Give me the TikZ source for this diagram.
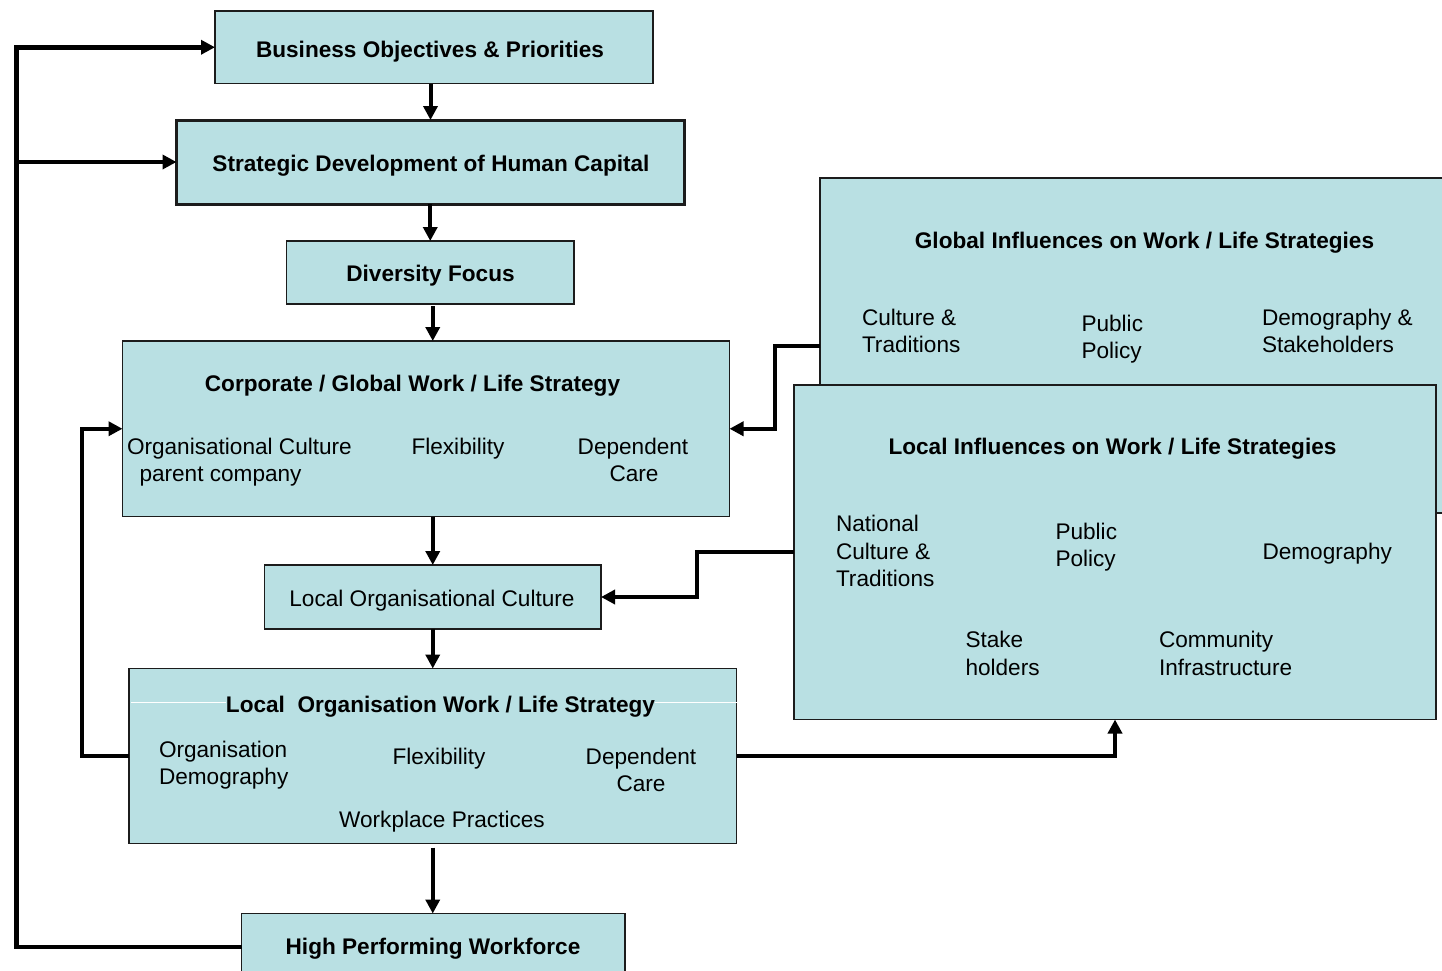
\documentclass[tikz,border=0pt]{standalone}
\usepackage{fontspec}
\setmainfont{Liberation Sans}
\usetikzlibrary{arrows.meta}
\definecolor{boxfill}{RGB}{185,224,227}
\definecolor{boxline}{RGB}{28,28,28}
\begin{document}
\begin{tikzpicture}[x=1pt,y=-1pt,
  box/.style={draw=boxline, fill=boxfill, line width=1.4pt, inner sep=0pt, outer sep=0pt},
  lbl/.style={font=\fontsize{22.6}{27.5}\selectfont, inner sep=0pt, outer sep=0pt, text=black},
  ttl/.style={inner sep=0pt, outer sep=0pt, text=black, font=\fontsize{22.6}{27.5}\selectfont\bfseries},
  conn/.style={line width=4pt, draw=black, -{Triangle[length=14pt,width=14pt]}},
  feedback/.style={conn, line width=4.5pt}]
\useasboundingbox (0,0) rectangle (1442,970);
\clip (0,0) rectangle (1442,970);

% ---- main column of boxes ----
\node[box, minimum width=438pt, minimum height=72.5pt] (bus) at (434,47.25) {};
\node[box, line width=3pt, minimum width=508pt, minimum height=84pt] (strat) at (430.5,162) {};
\node[box, minimum width=287.5pt, minimum height=63pt] (div) at (430.25,272.5) {};
\node[box, minimum width=607pt, minimum height=175.5pt] (corp) at (426,428.75) {};
\node[box, minimum width=336.5pt, minimum height=64pt] (lc) at (432.75,597) {};
\node[box, minimum width=607.5pt, minimum height=175pt] (ls) at (432.75,756) {};
\node[box, minimum width=383.5pt, minimum height=66.5pt] (high) at (433.25,946.75) {};

% ---- influence boxes on the right ----
\node[box, minimum width=650pt, minimum height=335pt] (glob) at (1145,345.5) {};
\node[box, minimum width=642pt, minimum height=334.5pt] (loc) at (1115,552.25) {};

% thin white rule behind the local strategy heading
\coordinate (wl) at (131,702);
\draw[white, line width=1pt] (wl) -- (wl -| ls.east);

% ---- texts ----
\node[ttl, anchor=base] (bus-t) at (430,57) {Business Objectives \& Priorities};
\node[ttl, anchor=base] (strat-t) at (431,171) {Strategic Development of Human Capital};
\node[ttl, anchor=base] (div-t) at (430.5,281) {Diversity Focus};

\node[ttl, anchor=base] (corp-t) at (412.5,391) {Corporate / Global Work / Life Strategy};
\node[lbl, anchor=base west] (corp-a1) at (127,454) {Organisational Culture};
\node[lbl, anchor=base west] (corp-a2) at (139.5,481) {parent company};
\node[lbl, anchor=base] (corp-b) at (458,454) {Flexibility};
\node[lbl, anchor=base] (corp-c1) at (633,454) {Dependent};
\node[lbl, anchor=base] (corp-c2) at (634,481) {Care};

\node[lbl, anchor=base] (lc-t) at (432,606) {Local Organisational Culture};

\node[ttl, anchor=base, fill=boxfill, inner ysep=4pt] (ls-t) at (440.5,712) {Local\ \ Organisation Work / Life Strategy};
\node[lbl, anchor=base west] (ls-a1) at (159,757) {Organisation};
\node[lbl, anchor=base west] (ls-a2) at (159,784) {Demography};
\node[lbl, anchor=base] (ls-b) at (439,764) {Flexibility};
\node[lbl, anchor=base] (ls-c1) at (641,764) {Dependent};
\node[lbl, anchor=base] (ls-c2) at (641,791) {Care};
\node[lbl, anchor=base] (ls-d) at (442,827) {Workplace Practices};

\node[ttl, anchor=base] (high-t) at (433,954) {High Performing Workforce};

\node[ttl, anchor=base] (glob-t) at (1144.5,248) {Global Influences on Work / Life Strategies};
\node[lbl, anchor=base west] (glob-a1) at (862,325) {Culture \&};
\node[lbl, anchor=base west] (glob-a2) at (862,352) {Traditions};
\node[lbl, anchor=base west] (glob-b1) at (1081.5,331) {Public};
\node[lbl, anchor=base west] (glob-b2) at (1081.5,358) {Policy};
\node[lbl, anchor=base west] (glob-c1) at (1262,325) {Demography \&};
\node[lbl, anchor=base west] (glob-c2) at (1262,352) {Stakeholders};

\node[ttl, anchor=base] (loc-t) at (1112.5,454) {Local Influences on Work / Life Strategies};
\node[lbl, anchor=base west] (loc-a1) at (836,531) {National};
\node[lbl, anchor=base west] (loc-a2) at (836,559) {Culture \&};
\node[lbl, anchor=base west] (loc-a3) at (836,586) {Traditions};
\node[lbl, anchor=base west] (loc-b1) at (1055.5,539) {Public};
\node[lbl, anchor=base west] (loc-b2) at (1055.5,566) {Policy};
\node[lbl, anchor=base west] (loc-c) at (1262.5,559) {Demography};
\node[lbl, anchor=base west] (loc-d1) at (965.5,647) {Stake};
\node[lbl, anchor=base west] (loc-d2) at (965.5,675) {holders};
\node[lbl, anchor=base west] (loc-e1) at (1159,647) {Community};
\node[lbl, anchor=base west] (loc-e2) at (1159,675) {Infrastructure};

% ---- downward flow ----
\draw[conn] (bus.south -| strat.north) -- (strat.north);
\draw[conn] (strat.south -| div.north) -- (div.north);
\draw[conn] ([xshift=2.5pt,yshift=-2pt]div.south) -- ([xshift=2.5pt]div.south |- corp.north);
\draw[conn] (corp.south -| lc.north) -- (lc.north);
\draw[conn] (lc.south) -- (lc.south |- ls.north);
\draw[conn] ([yshift=-4pt]ls.south) -- (ls.south |- high.north);

% ---- feedback loop from the workforce ----
\coordinate (lx) at (16.5,0);
\draw[feedback] (high.west) -- (high.west -| lx) |- (bus.west);
\draw[feedback] (lx |- strat.west) -- (strat.west);

% ---- local strategy back to corporate strategy ----
\coordinate (lsx) at (82,0);
\draw[conn] (ls.west) -- (ls.west -| lsx) |- (corp.west);

% ---- influences feeding the strategies ----
\coordinate (gx) at (774.5,0);
\draw[conn] (glob.west) -- (glob.west -| gx) |- (corp.east);
\coordinate (lix) at (697,0);
\draw[conn] (loc.west) -- (loc.west -| lix) |- (lc.east);
\draw[conn] (ls.east) -| (loc.south);
\end{tikzpicture}
\end{document}
